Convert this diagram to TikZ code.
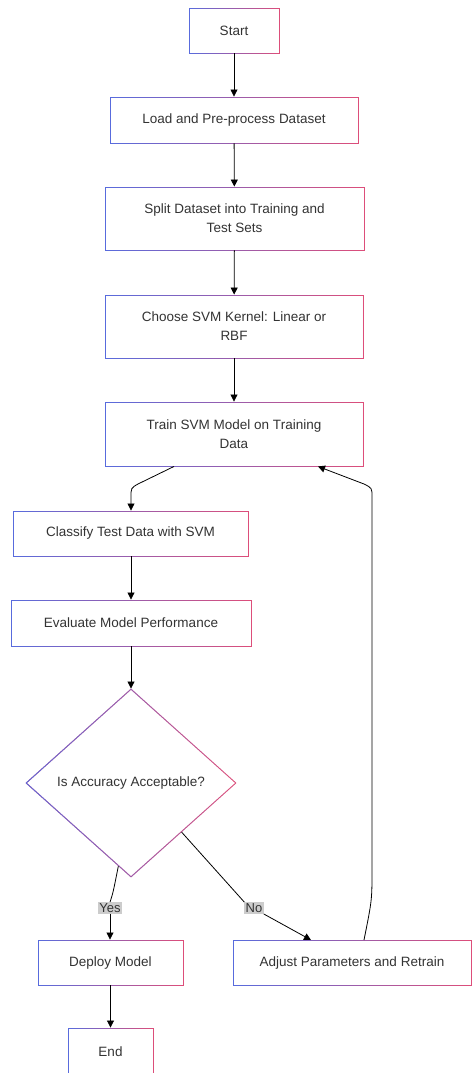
\documentclass[tikz,border=0pt]{standalone}
\usepackage{fontspec}
\setmainfont{Liberation Sans}
\usetikzlibrary{shapes.geometric,arrows.meta,fadings,calc}
\definecolor{cb}{RGB}{88,108,222}
\definecolor{cr}{RGB}{222,78,122}
\definecolor{txt}{RGB}{51,51,51}
\definecolor{lbl}{RGB}{204,204,204}
\begin{document}
\begin{tikzpicture}[x=1pt,y=-1pt,
  gb/.style={draw=cr, line width=0.9pt, fill=white, text=txt, align=center,
    font=\fontsize{13.5}{19}\selectfont, inner sep=0pt,
    postaction={draw=cb, line width=0.9pt, path fading=east}},
  box/.style={gb, rectangle},
  conn/.style={draw=black, line width=0.8pt, -{Triangle[length=7pt,width=7pt]}},
  lab/.style={fill=lbl, text=txt, font=\fontsize{13}{15}\selectfont, inner sep=1.2pt}]
\useasboundingbox (0,0) rectangle (472,1073);
\node[box, minimum width=90pt, minimum height=45pt] (start) at (234,30.5) {Start};
\node[box, minimum width=248pt, minimum height=46pt] (load) at (234,120) {Load and Pre-process Dataset};
\node[box, minimum width=259pt, minimum height=63pt] (split) at (234.5,218.5) {Split Dataset into Training and\\Test Sets};
\node[box, minimum width=258pt, minimum height=63pt] (choose) at (234,326.5) {Choose SVM Kernel: Linear or\\RBF};
\node[box, minimum width=258pt, minimum height=64pt] (train) at (234,434) {Train SVM Model on Training\\Data};
\node[box, minimum width=235pt, minimum height=45pt] (classify) at (130.5,533.5) {Classify Test Data with SVM};
\node[box, minimum width=240pt, minimum height=46pt] (eval) at (131,623) {Evaluate Model Performance};
\node[gb, diamond, minimum width=210pt, minimum height=188pt] (dia) at (131,783) {Is Accuracy Acceptable?};
\node[box, minimum width=145pt, minimum height=45pt] (deploy) at (110.5,962.5) {Deploy Model};
\node[box, minimum width=238pt, minimum height=45pt] (adjust) at (352,962.5) {Adjust Parameters and Retrain};
\node[box, minimum width=85pt, minimum height=48pt] (end) at (110.5,1052) {End};

\draw[conn] (start) -- (load);
\draw[conn] (load) -- (split);
\draw[conn] (split) -- (choose);
\draw[conn] (choose) -- (train);
\draw[conn] ([xshift=-60pt]train.south) -- (138,484) .. controls (131,488) .. (131,497) -- (classify.north -| 131,0);
\draw[conn] (classify.south -| 131,0) -- (eval.north -| 131,0);
\draw[conn] (eval.south -| 131,0) -- (dia.north);
\coordinate (yesS) at ($(dia.south)!0.12!(dia.west)$);
\coordinate (noS) at ($(dia.south)!0.48!(dia.east)$);
\node[lab] (yes) at (110,908) {Yes};
\node[lab] (no) at (254,908) {No};
\draw[line width=0.8pt] (yesS) .. controls (113,893) .. (yes.north);
\draw[conn] (yes.south) -- (deploy.north -| yes.south);
\draw[line width=0.8pt] (noS) -- (no.north west);
\draw[conn] (no.south east) -- (311,940);
\draw[conn] (364,940) .. controls (372,900) .. (372,870) -- (372,497) .. controls (372,488) .. (364,484) -- (train.south -| 318,0);
\draw[conn] (deploy) -- (end);
\end{tikzpicture}
\end{document}
